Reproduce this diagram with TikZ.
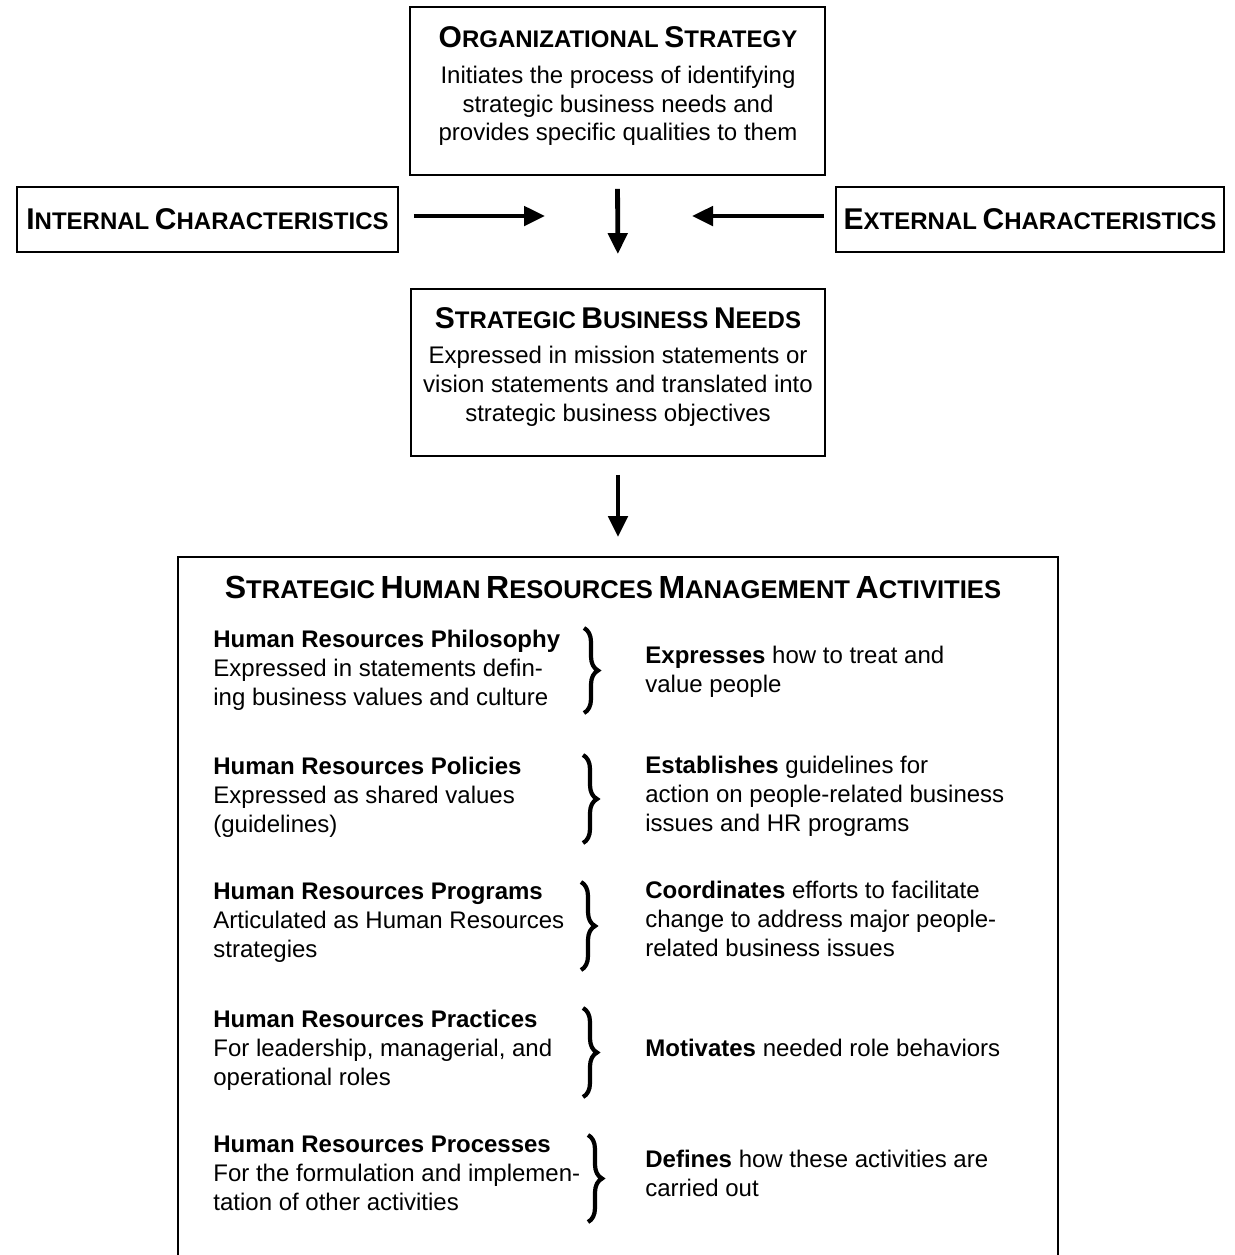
\documentclass[tikz,border=0pt]{standalone}
\usepackage{fontspec}
\setmainfont{Liberation Sans}
\usetikzlibrary{arrows.meta,decorations.pathreplacing}
\newcommand\capw[2]{{\fontsize{15}{15}\selectfont #1}{\fontsize{12}{12}\selectfont #2}}
\newcommand\capwb[2]{{\fontsize{16}{16}\selectfont #1}{\fontsize{12.8}{12.8}\selectfont #2}}
\begin{document}
\begin{tikzpicture}[x=0.5pt,y=-0.5pt,
  box/.style={draw,line width=0.9pt,inner sep=0pt,rectangle},
  ttl/.style={font=\bfseries,inner sep=0pt},
  body/.style={font=\fontsize{12}{14.3}\selectfont,inner sep=0pt},
  arr/.style={line width=2.4pt,-{Triangle[length=10.5pt,width=9.5pt]}},
  brc/.style={decorate,decoration={brace,amplitude=7pt},line width=2.1pt}]
\useasboundingbox (0,0) rectangle (1235,1255);
\fill[white] (0,0) rectangle (1235,1255);

% boxes
\node[box,minimum width=207.5pt,minimum height=84pt] (org) at (617.5,91) {};
\node[box,minimum width=190.5pt,minimum height=32.5pt,font=\bfseries] (intl) at (207.5,219.5)
  {\capw{I}{NTERNAL} \capw{C}{HARACTERISTICS}};
\node[box,minimum width=194pt,minimum height=32.5pt,font=\bfseries] (extl) at (1030,219.5)
  {\capw{E}{XTERNAL} \capw{C}{HARACTERISTICS}};
\node[box,minimum width=207pt,minimum height=83.5pt] (sbn) at (618,372.5) {};
\begin{scope}
\clip (0,0) rectangle (1235,1255);
\node[box,minimum width=440pt,minimum height=352.5pt] (big) at (618,909.5) {};
\end{scope}

% texts in top boxes
\node[ttl,anchor=north] (orgt) at (618,26) {\capw{O}{RGANIZATIONAL} \capw{S}{TRATEGY}};
\node[body,anchor=north,align=center] (orgb) at (618,66)
  {Initiates the process of identifying\\strategic business needs and\\provides specific qualities to them};
\node[ttl,anchor=north] (sbnt) at (618,307) {\capw{S}{TRATEGIC} \capw{B}{USINESS} \capw{N}{EEDS}};
\node[body,anchor=north,align=center] (sbnb) at (618,346)
  {Expressed in mission statements or\\vision statements and translated into\\strategic business objectives};

% arrows
\coordinate (inE) at (545,216);
\coordinate (exE) at (692,216);
\draw[arr,shorten <=7.5pt] (intl.east |- inE) -- (inE);
\draw[arr,shorten <=5.5pt] (extl.west |- exE) -- (exE);
\draw[arr,shorten <=6.5pt,shorten >=17pt] (org.south) -- (sbn.north);
\draw[arr,shorten <=9pt,shorten >=9.5pt] (sbn.south) -- (big.north);

% big box content
\node[ttl,anchor=north] (bigt) at (613,576)
  {\capwb{S}{TRATEGIC} \capwb{H}{UMAN} \capwb{R}{ESOURCES} \capwb{M}{ANAGEMENT} \capwb{A}{CTIVITIES}};

\node[body,anchor=north west,align=left] (l1) at (213,630)
  {\textbf{Human Resources Philosophy}\\Expressed in statements defin-\\ing business values and culture};
\node[body,anchor=north west,align=left] (r1) at (645,646)
  {\textbf{Expresses} how to treat and\\value people};

\node[body,anchor=north west,align=left] (l2) at (213,757)
  {\textbf{Human Resources Policies}\\Expressed as shared values\\(guidelines)};
\node[body,anchor=north west,align=left] (r2) at (645,756)
  {\textbf{Establishes} guidelines for\\action on people-related business\\issues and HR programs};

\node[body,anchor=north west,align=left] (l3) at (213,883)
  {\textbf{Human Resources Programs}\\Articulated as Human Resources\\strategies};
\node[body,anchor=north west,align=left] (r3) at (645,881)
  {\textbf{Coordinates} efforts to facilitate\\change to address major people-\\related business issues};

\node[body,anchor=north west,align=left] (l4) at (213,1010)
  {\textbf{Human Resources Practices}\\For leadership, managerial, and\\operational roles};
\node[body,anchor=north west,align=left] (r4) at (645,1039)
  {\textbf{Motivates} needed role behaviors};

\node[body,anchor=north west,align=left] (l5) at (213,1136)
  {\textbf{Human Resources Processes}\\For the formulation and implemen-\\tation of other activities};
\node[body,anchor=north west,align=left] (r5) at (645,1150)
  {\textbf{Defines} how these activities are\\carried out};

% braces
\draw[brc] (584,628) -- (584,713);
\draw[brc] (583,755) -- (583,843);
\draw[brc] (581,882) -- (581,970);
\draw[brc] (583,1008) -- (583,1097);
\draw[brc] (588,1135) -- (588,1222);
\end{tikzpicture}
\end{document}
